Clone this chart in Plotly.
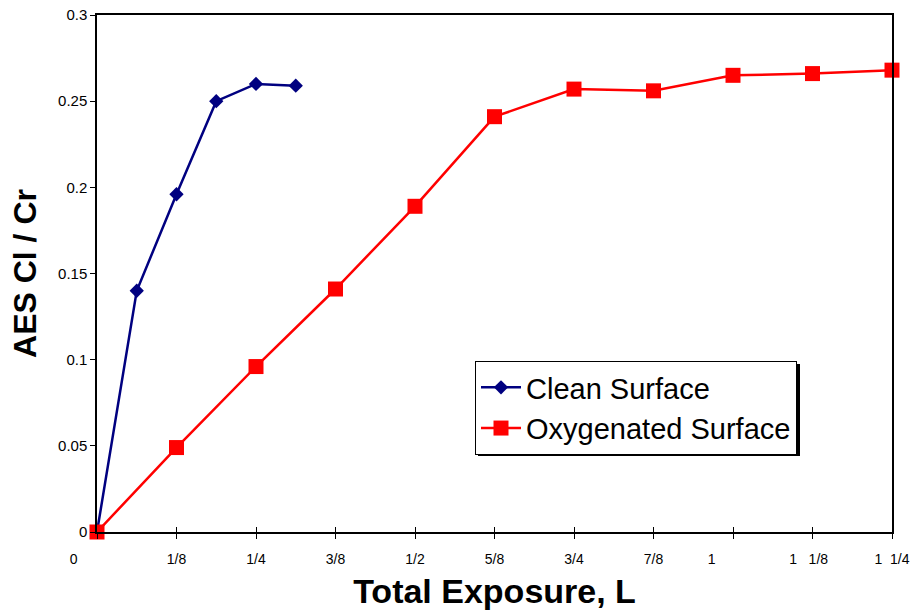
import plotly.graph_objects as go

# ---- data ----
clean_x = [0, 1/16, 2/16, 3/16, 4/16, 5/16]
clean_y = [0.0, 0.140, 0.196, 0.250, 0.260, 0.259]

oxy_x = [0, 0.125, 0.25, 0.375, 0.5, 0.625, 0.75, 0.875, 1.0, 1.125, 1.25]
oxy_y = [0.0, 0.049, 0.096, 0.141, 0.189, 0.241, 0.257, 0.256, 0.265, 0.266, 0.268]

NB = "\u00a0"
x_tickvals = [0, 0.125, 0.25, 0.375, 0.5, 0.625, 0.75, 0.875, 1.0, 1.125, 1.25]
x_ticktext = ["0" + NB * 12, "1/8", "1/4", "3/8", "1/2", "5/8", "3/4", "7/8",
              "1" + NB * 11, "1" + NB * 3 + "1/8" + NB * 2, "1" + NB * 2 + "1/4"]
y_tickvals = [0, 0.05, 0.1, 0.15, 0.2, 0.25, 0.3]
y_ticktext = ["0", "0.05", "0.1", "0.15", "0.2", "0.25", "0.3"]

FONT = "Liberation Sans, Arial, sans-serif"

fig = go.Figure()
fig.add_trace(go.Scatter(
    x=clean_x, y=clean_y, name="Clean Surface", mode="lines+markers",
    line=dict(color="#000080", width=2.5),
    marker=dict(symbol="diamond", size=11, color="#000080"),
    cliponaxis=False,
))
fig.add_trace(go.Scatter(
    x=oxy_x, y=oxy_y, name="Oxygenated Surface", mode="lines+markers",
    line=dict(color="#FF0000", width=2.5),
    marker=dict(symbol="square", size=15, color="#FF0000"),
    cliponaxis=False,
))

W, H = 910, 610
L, R, T, B = 97, 18, 15, 78
pw, ph = W - L - R, H - T - B

def px(xp):
    return (xp - L) / pw

def py(yp):
    return (H - B - yp) / ph

# legend shadow
fig.add_shape(type="rect", xref="paper", yref="paper",
              x0=px(478), x1=px(800), y0=py(456), y1=py(364),
              fillcolor="black", line=dict(width=0), layer="above")

fig.update_layout(
    width=W, height=H,
    margin=dict(l=L, r=R, t=T, b=B, autoexpand=False),
    paper_bgcolor="white", plot_bgcolor="white",
    font=dict(family=FONT, color="black"),
    showlegend=True,
    legend=dict(
        x=px(475), y=py(361), xanchor="left", yanchor="top",
        bgcolor="white", bordercolor="black", borderwidth=1,
        font=dict(size=29, family=FONT), itemwidth=40,
        tracegroupgap=0,
    ),
    xaxis=dict(
        range=[0, 1.25], tickvals=x_tickvals, ticktext=x_ticktext,
        showgrid=False, zeroline=False, showline=True, linecolor="black",
        linewidth=1.5, mirror=True, ticks="outside", ticklen=5,
        tickcolor="black", tickwidth=1, tickfont=dict(size=14),
        ticklabelstandoff=8, ticklabeloverflow="allow", automargin=False,
        title=dict(text="<b>Total Exposure, L</b>", font=dict(size=34), standoff=14),
    ),
    xaxis2=dict(
        range=[0, 1.25], tickvals=x_tickvals, overlaying="x", matches="x",
        anchor="y", side="bottom", showticklabels=False, ticks="inside",
        ticklen=5, tickcolor="black", tickwidth=1, showgrid=False,
        zeroline=False, showline=False, automargin=False,
    ),
    yaxis=dict(
        range=[0, 0.3], tickvals=y_tickvals, ticktext=y_ticktext,
        showgrid=False, zeroline=False, showline=True, linecolor="black",
        linewidth=1.5, mirror=True, ticks="outside", ticklen=5,
        tickcolor="black", tickwidth=1, tickfont=dict(size=15),
        automargin=False,
        title=dict(text="<b>AES Cl / Cr</b>", font=dict(size=32), standoff=12),
    ),
)
# invisible trace to activate xaxis2 (inside half of crossing ticks)
fig.add_trace(go.Scatter(x=[0], y=[0], xaxis="x2", mode="markers",
                         marker=dict(opacity=0), showlegend=False, hoverinfo="skip"))

fig.write_html("out.html")
